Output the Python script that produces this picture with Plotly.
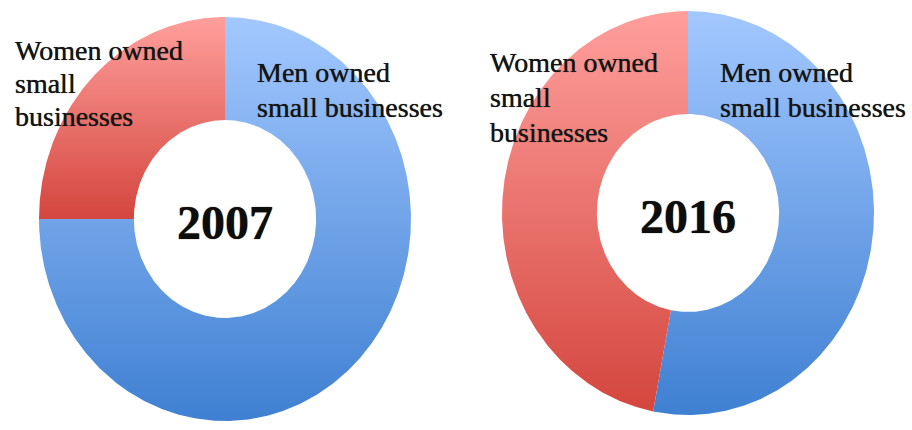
import numpy as np
import plotly.graph_objects as go

# Share of small businesses by owner gender (percent)
years = ["2007", "2016"]
segments = ["Men owned small businesses", "Women owned small businesses"]
men_share = [75, 53]
women_share = [25, 47]
segment_labels = [
    ["Men owned", "small businesses"],
    ["Women owned", "small", "businesses"],
]

W, H = 912, 430

# ring geometry in pixel units (y measured from the top)
centers = [(225, 219), (688, 213)]
RX, RY = 186, 202
HOLE = 0.49

# vertical gradients (bottom colour, top colour) per segment
gradients = [
    ("#3F80D2", "#A3C8FF"),   # men
    ("#D4463E", "#FF9F9C"),   # women
]

# label placement: (x of left edge, [y centre of each line])
label_pos = [
    [(255, [72, 107]), (13, [50, 83, 116])],
    [(718, [72, 107]), (488, [62, 97, 132])],
]

SERIF = "Liberation Serif, Times New Roman, serif"


def ring_segment(cx, cy, a0, a1):
    """Closed outline of a ring segment between angles a0..a1 (degrees, clockwise from 12 o'clock)."""
    n = max(8, int(abs(a1 - a0) * 2))
    t = np.radians(np.linspace(a0, a1, n))
    xo = cx + RX * np.sin(t)
    yo = (H - cy) + RY * np.cos(t)
    xi = cx + RX * HOLE * np.sin(t[::-1])
    yi = (H - cy) + RY * HOLE * np.cos(t[::-1])
    xs = np.concatenate([xo, xi, xo[:1]])
    ys = np.concatenate([yo, yi, yo[:1]])
    return xs, ys


fig = go.Figure()
annotations = []

for k, year in enumerate(years):
    cx, cy = centers[k]
    values = [men_share[k], women_share[k]]
    total = sum(values)
    start = 0.0
    for j, v in enumerate(values):
        span = 360.0 * v / total
        xs, ys = ring_segment(cx, cy, start, start + span)
        start += span
        bottom, top = gradients[j]
        fig.add_trace(go.Scatter(
            x=xs, y=ys, mode="lines", fill="toself",
            line=dict(width=0, color=top),
            fillcolor=top,
            fillgradient=dict(type="vertical",
                              colorscale=[[0, bottom], [1, top]]),
            hoverinfo="text", text=f"{segments[j]} {year}: {v}%",
            showlegend=False,
        ))
        lx, lys = label_pos[k][j]
        for line, ly in zip(segment_labels[j], lys):
            annotations.append(dict(
                x=lx, y=H - ly, xref="x", yref="y", text=line,
                showarrow=False, xanchor="left", yanchor="middle",
                font=dict(family=SERIF, size=28, color="#151515",
                          shadow="0px 0px 0.7px #222"),
            ))
    annotations.append(dict(
        x=cx, y=H - cy - 3, xref="x", yref="y", text=f"<b>{year}</b>",
        showarrow=False, xanchor="center", yanchor="middle",
        font=dict(family=SERIF, size=48, color="#0d0d0d",
                  shadow="0px 0px 1px #3a2a10"),
    ))

fig.update_layout(
    width=W, height=H,
    margin=dict(l=0, r=0, t=0, b=0),
    paper_bgcolor="white", plot_bgcolor="white",
    xaxis=dict(range=[0, W], visible=False, fixedrange=True),
    yaxis=dict(range=[0, H], visible=False, fixedrange=True),
    annotations=annotations,
    showlegend=False,
)

fig.write_html("out.html")
